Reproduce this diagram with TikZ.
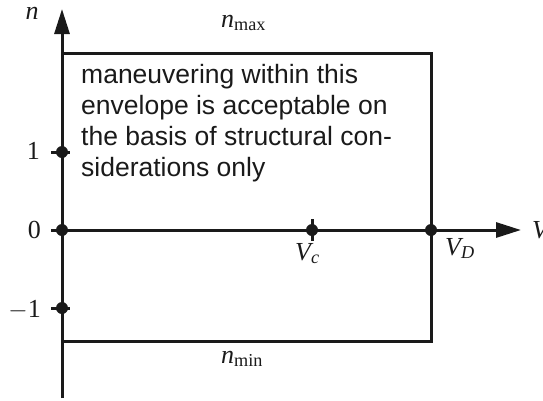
\documentclass[tikz,border=0pt]{standalone}
\usepackage{fontspec}
\setmainfont{Liberation Serif}
\newfontfamily\notefont{Liberation Sans}
\definecolor{ink}{HTML}{1A1A1A}
\usetikzlibrary{arrows.meta,positioning}
\tikzset{
  axis/.style={draw=ink,line width=3pt,-{Triangle[length=25pt,width=15pt]}},
  env/.style={draw=ink,line width=3pt},
  tck/.style={draw=ink,line width=3pt},
  dot/.style={circle,fill=ink,inner sep=0pt,minimum size=12pt},
  lab/.style={font=\fontsize{26}{30}\selectfont,inner sep=0pt,text=ink},
  note/.style={font=\notefont\fontsize{26.5}{31}\selectfont,align=left,inner sep=0pt,anchor=north west,text=ink},
}

\begin{document}
\begin{tikzpicture}[x=1pt,y=-1pt]
\useasboundingbox (0,0) rectangle (543,400);
% axes
\coordinate (bot) at (62,398);
\coordinate (top) at (62,9);
\coordinate (right) at (521,230);
\node[dot] (o) at (62,230) {};
\node[dot] (one) at (62,152) {};
\node[dot] (mone) at (62,308) {};
\node[dot] (vc) at (312,230) {};
\node[dot] (vd) at (431,230) {};
% envelope
\coordinate (tl) at (62,53);
\coordinate (tr) at (431,53);
\coordinate (br) at (431,341);
\coordinate (bl) at (62,341);
\draw[env] (tl) -- (tr) -- (br) -- (bl);
\draw[axis] (bot) -- (top);
\draw[axis] (o.center) -- (right);
% ticks
\foreach \p in {one,o,mone}
  \draw[tck] ([xshift=-11pt]\p.center) -- ([xshift=8pt]\p.center);
\draw[tck] ([yshift=-11pt]vc.center) -- ([yshift=11pt]vc.center);
% labels
\node[lab,anchor=base] (n) at (32,19) {$\mathit{n}$};
\node[lab,anchor=base west] (nmax) at (221,27) {$\mathit{n}_{\mathrm{max}}$};
\node[lab,anchor=base west] (nmin) at (221,363) {$\mathit{n}_{\mathrm{min}}$};
\node[lab,anchor=base east] (l1) at (40,159) {1};
\node[lab,anchor=base east] (l0) at (41,238) {0};
\node[lab,anchor=base east] (lm1) at (41,317) {$-$1};
\node[lab,anchor=base west] (lvc) at (295,260) {$\mathit{V}_{\mathit{c}}$};
\node[lab,anchor=base west] (lvd) at (445,255) {$\mathit{V}_{\mathit{D}}$};
\node[lab,anchor=base west] (lv) at (532,238) {$\mathit{V}$};
\node[note] (txt) at (81,64) {maneuvering within this\\envelope is acceptable on\\the basis of structural con-\\siderations only};
\end{tikzpicture}
\end{document}
